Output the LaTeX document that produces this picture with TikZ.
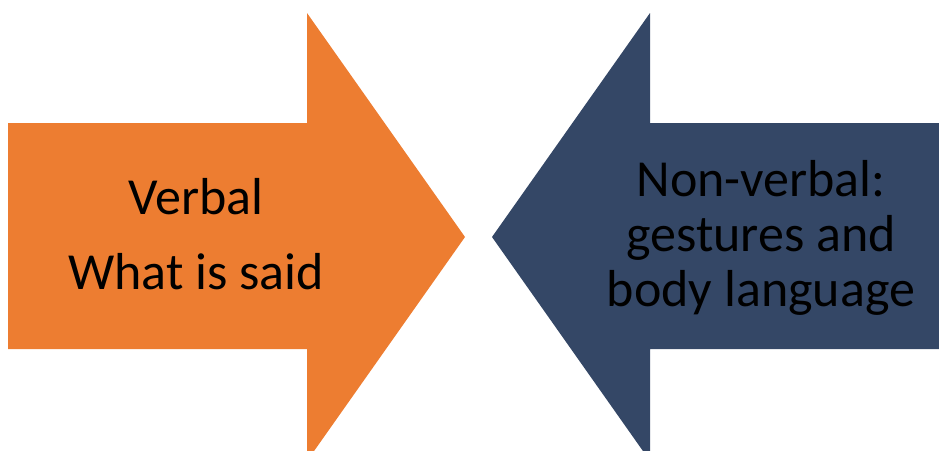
\documentclass[tikz,border=0pt]{standalone}
\usepackage{fontspec}
\setmainfont{Carlito}
\usepackage{tikz}
\definecolor{verbalorange}{HTML}{ED7D31}
\definecolor{nonverbalblue}{HTML}{344766}
\tikzset{
  verbal/.style={fill=verbalorange},
  nonverbal/.style={fill=nonverbalblue},
  lbl/.style={align=center, inner sep=0pt, text=black, font=\fontsize{52}{55}\selectfont}
}

\begin{document}
\begin{tikzpicture}[x=1pt, y=-1pt]
\useasboundingbox (0,0) rectangle (939,450);
\clip (0,0) rectangle (939,450);
% block arrows
\fill[verbal] (8,123) -- (307,123) -- (307,13) -- (465,237) -- (307,461) -- (307,349) -- (8,349) -- cycle;
\fill[nonverbal] (945,123) -- (650,123) -- (650,13) -- (492,237) -- (650,461) -- (650,349) -- (945,349) -- cycle;
% labels
\node[lbl] (said) at (196,234) {Verbal\\[20pt]What is said};
\node[lbl] (body) at (761,238) {Non-verbal:\\gestures and\\body language};
\end{tikzpicture}
\end{document}
